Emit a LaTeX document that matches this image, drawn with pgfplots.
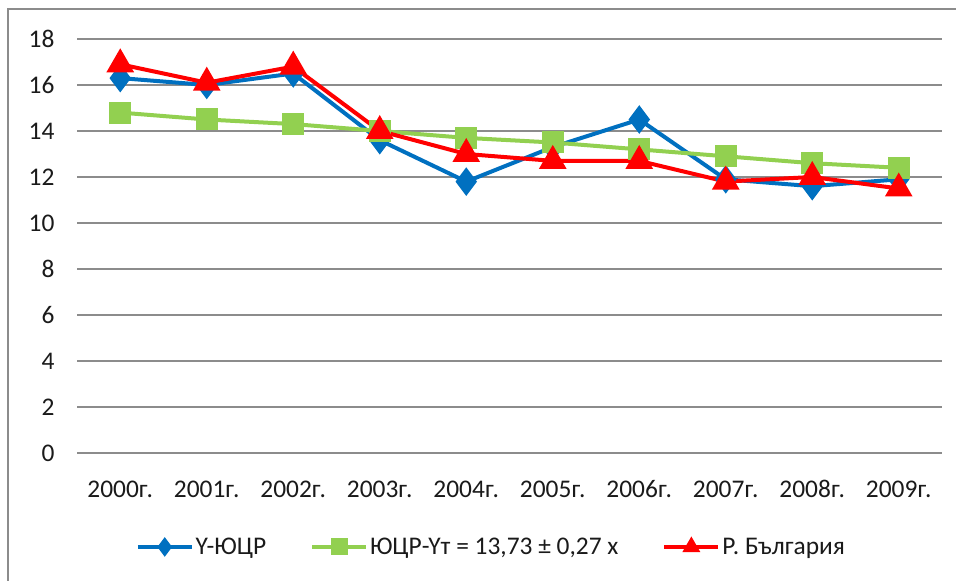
\documentclass[border=0pt]{standalone}
\usepackage{fontspec}
\setmainfont{Carlito}
\usepackage{pgfplots}
\pgfplotsset{compat=1.18}
\definecolor{cblue}{HTML}{0070C0}
\definecolor{cgreen}{HTML}{92D050}
\definecolor{cred}{HTML}{FF0000}
\definecolor{cgrid}{HTML}{8C8C8C}
\definecolor{ctext}{HTML}{1A1A1A}
\begin{document}
\begin{tikzpicture}
\useasboundingbox (0,0) rectangle (956bp,581bp);
\draw[color=cgrid, line width=2bp] (8bp,0) -- (8bp,572bp) -- (956bp,572bp);
\begin{axis}[
  at={(77bp,128bp)}, anchor=south west,
  width=865bp, height=414bp, scale only axis,
  xmin=-0.5, xmax=9.5, ymin=0, ymax=18,
  xtick={0,1,2,3,4,5,6,7,8,9},
  xticklabels={2000г.,2001г.,2002г.,2003г.,2004г.,2005г.,2006г.,2007г.,2008г.,2009г.},
  ytick={0,2,4,6,8,10,12,14,16,18},
  axis line style={draw=none},
  major tick length=0pt,
  ymajorgrids,
  major grid style={color=cgrid, line width=1.2bp},
  /pgf/number format/assume math mode=true,
  tick label style={font=\fontsize{25.5}{30}\selectfont, text=ctext},
  yticklabel style={xshift=-19bp},
  xticklabel style={yshift=-24bp},
  clip=false,
  legend columns=3,
  legend style={at={(0.479,-0.227)}, anchor=center, draw=none, fill=none,
    font=\fontsize{25.5}{30}\selectfont, text=ctext,
    /tikz/every even column/.append style={column sep=42bp}},
  legend image code/.code={%
    \draw[mark repeat=2,mark phase=2,mark size=6.5bp] plot coordinates {(0bp,0bp)(27bp,0bp)(54bp,0bp)};},
]
\addplot[color=cblue, line width=4bp, mark=diamond*, mark size=11bp, mark options={solid}]
  coordinates {(0,16.3)(1,16.0)(2,16.5)(3,13.6)(4,11.8)(5,13.3)(6,14.5)(7,11.9)(8,11.6)(9,11.9)};
\addlegendentry{Y-ЮЦР}
\addplot[color=cgreen, line width=4bp, mark=square*, mark size=9bp]
  coordinates {(0,14.8)(1,14.5)(2,14.3)(3,14.0)(4,13.7)(5,13.5)(6,13.2)(7,12.9)(8,12.6)(9,12.4)};
\addlegendentry{ЮЦР-Yт = 13,73 ± 0,27 x}
\addplot[color=cred, line width=4bp, mark=triangle*, mark size=12bp]
  coordinates {(0,16.9)(1,16.1)(2,16.8)(3,14.0)(4,13.0)(5,12.7)(6,12.7)(7,11.8)(8,12.0)(9,11.5)};
\addlegendentry{Р. България}
\end{axis}
\end{tikzpicture}
\end{document}
